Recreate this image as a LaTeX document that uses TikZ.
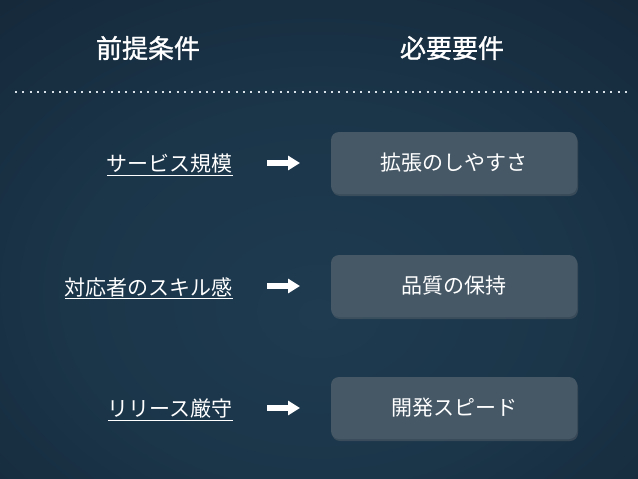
\documentclass[tikz,border=0pt]{standalone}
\usepackage{fontspec}
\setmainfont{Noto Sans CJK JP}
\newfontfamily\headfont[FakeBold=1.2]{Noto Sans CJK JP}
\usetikzlibrary{shadows,arrows.meta}
\definecolor{bgin}{HTML}{1E3B50}
\definecolor{bgout}{HTML}{0A1220}
\definecolor{boxfill}{HTML}{465866}
\definecolor{dotcol}{HTML}{D8E0E8}
\pgfdeclareradialshading{bgshade}{\pgfpoint{0bp}{-8bp}}{color(0bp)=(bgin); color(20bp)=(bgin!85!bgout); color(72bp)=(bgout)}
\begin{document}
\begin{tikzpicture}[x=1pt,y=-1pt,
  head/.style={text=white,font=\headfont\fontsize{26}{30}\selectfont,inner sep=0pt},
  lab/.style={text=white,font=\fontsize{21}{25}\selectfont,inner sep=0pt,anchor=east},
  box/.style={fill=boxfill,rounded corners=8pt,minimum width=246pt,minimum height=62pt,
    text=white,font=\fontsize{21}{25}\selectfont,inner sep=0pt,
    drop shadow={opacity=0.3,shadow xshift=1pt,shadow yshift=-2pt}},
  arr/.style={white,line width=6pt,-{Triangle[length=12pt,width=14pt]}}]
\useasboundingbox (0,0) rectangle (638,479);
\shade[shading=bgshade] (0,0) rectangle (638,479);
\coordinate (d1) at (15,92);
\coordinate (d2) at (632,92);
\draw[dotcol,line width=2pt,dash pattern=on 2pt off 5.35pt] (d1) -- (d2);
\node[head] (h1) at (148,48) {前提条件};
\node[head] (h2) at (452,48) {必要要件};
\node[lab] (l1) at (233,165) {\underline{サービス規模}};
\node[lab] (l2) at (233,288) {\underline{対応者のスキル感}};
\node[lab] (l3) at (233,410) {\underline{リリース厳守}};
\node[box] (b1) at (454,163) {拡張のしやすさ};
\node[box] (b2) at (454,286) {品質の保持};
\node[box] (b3) at (454,408) {開発スピード};
\coordinate (a1s) at (267,163); \coordinate (a1e) at (300,163);
\coordinate (a2s) at (267,286); \coordinate (a2e) at (300,286);
\coordinate (a3s) at (267,408); \coordinate (a3e) at (300,408);
\draw[arr] (a1s) -- (a1e);
\draw[arr] (a2s) -- (a2e);
\draw[arr] (a3s) -- (a3e);
\end{tikzpicture}
\end{document}
